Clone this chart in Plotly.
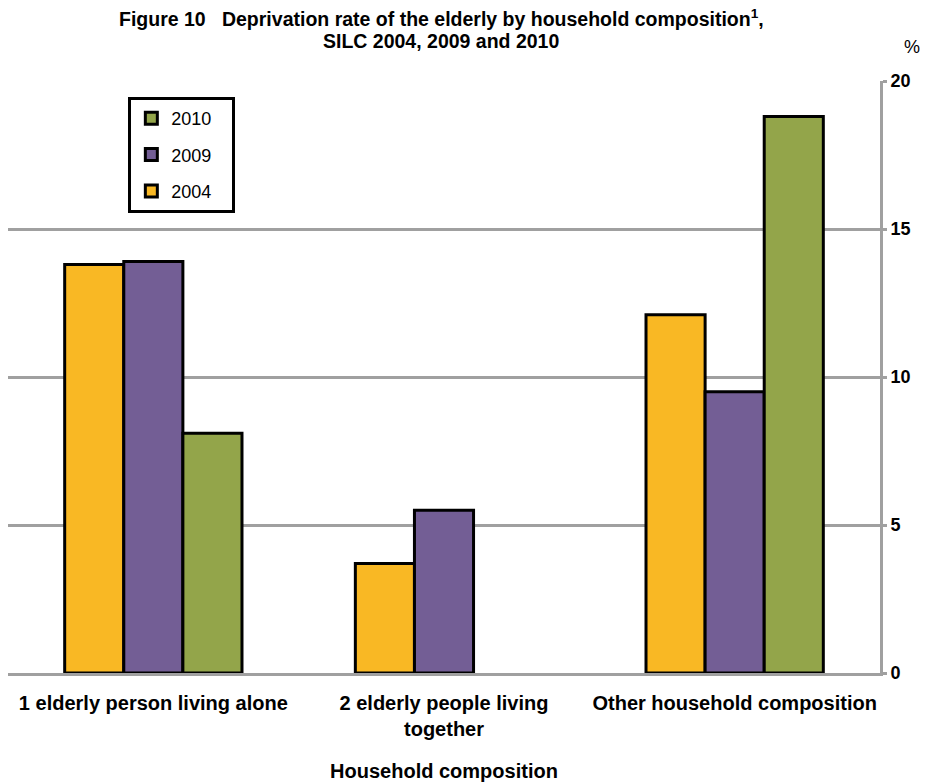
import plotly.graph_objects as go

categories = ["1 elderly person living alone", "2 elderly people living<br>together", "Other household composition"]
years = ["2004", "2009", "2010"]
values_2004 = [13.8, 3.7, 12.1]
values_2009 = [13.9, 5.5, 9.5]
values_2010 = [8.1, None, 18.8]
colors = {"2004": "#F9B824", "2009": "#735E95", "2010": "#93A54A"}
legend_rank = {"2010": 1, "2009": 2, "2004": 3}
y_ticks = [0, 5, 10, 15, 20]
title_lines = [
    "Figure 10   Deprivation rate of the elderly by household composition<sup>1</sup>,",
    "SILC 2004, 2009 and 2010",
]

series = {"2004": values_2004, "2009": values_2009, "2010": values_2010}
FONT = "Liberation Sans, Arial, sans-serif"

fig = go.Figure()
for yr in years:
    fig.add_trace(go.Bar(
        x=categories, y=series[yr], name=yr + "\u00a0\u00a0\u00a0",
        legendgroup=yr, legendrank=legend_rank[yr],
        marker=dict(color=colors[yr], line=dict(color="black", width=3)),
    ))

# title drawn line by line to keep the tight line spacing
title_ann = [
    dict(text=f"<b>{line}</b>", xref="paper", yref="paper", x=0.497, y=1.0,
         xanchor="center", yanchor="middle", yshift=81 - yc,
         showarrow=False, font=dict(family=FONT, size=19.5, color="black"))
    for line, yc in zip(title_lines, [18, 41])
]

fig.update_layout(
    width=925, height=782,
    margin=dict(l=8, r=45, t=81, b=109),
    paper_bgcolor="white", plot_bgcolor="white",
    barmode="group", bargap=0.39, bargroupgap=0,
    font=dict(family=FONT, size=18, color="black"),
    showlegend=True,
    legend=dict(
        x=0.138, y=0.973, xanchor="left", yanchor="top",
        traceorder="grouped", tracegroupgap=10,
        bordercolor="black", borderwidth=3, bgcolor="white",
        font=dict(family=FONT, size=18, color="black"),
        itemwidth=30,
    ),
    xaxis=dict(
        showline=True, linecolor="#A0A0A0", linewidth=3,
        ticks="", automargin=False, ticklabelstandoff=10,
        tickfont=dict(family=FONT, size=20, color="black", weight="bold"),
        title=dict(text="<b>Household composition</b>", font=dict(family=FONT, size=20), standoff=34),
    ),
    yaxis=dict(
        side="right", range=[0, 20], tickvals=y_ticks, automargin=False,
        showgrid=True, gridcolor="#A0A0A0", gridwidth=3,
        showline=True, linecolor="#A0A0A0", linewidth=3,
        ticks="outside", ticklen=4, tickcolor="#A0A0A0", tickwidth=3,
        tickfont=dict(family=FONT, size=18, color="black", weight="bold"),
        zeroline=False,
    ),
    annotations=title_ann + [
        dict(text="%", xref="paper", yref="paper", x=1.0, y=1.0, xanchor="left", yanchor="middle",
             xshift=22, yshift=81 - 47, showarrow=False, font=dict(family=FONT, size=18, color="black")),
    ],
)

fig.write_html("out.html")
